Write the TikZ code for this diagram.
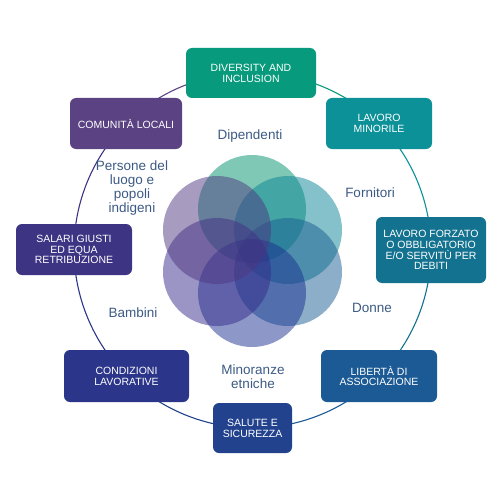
\documentclass[tikz,border=0pt]{standalone}
\usepackage{fontspec}
\setmainfont{Liberation Sans}
\usetikzlibrary{backgrounds}
\definecolor{cdiv}{HTML}{079A7C}
\definecolor{cmin}{HTML}{0C9198}
\definecolor{cfor}{HTML}{13728F}
\definecolor{clib}{HTML}{1C5A95}
\definecolor{csal}{HTML}{22428E}
\definecolor{ccon}{HTML}{2B3589}
\definecolor{cslr}{HTML}{3D3584}
\definecolor{ccom}{HTML}{5A4283}
\definecolor{lblc}{HTML}{3C5A84}
\definecolor{p1}{HTML}{00916B}
\definecolor{p2}{HTML}{098395}
\definecolor{p3}{HTML}{195D91}
\definecolor{p4}{HTML}{1D3191}
\definecolor{p5}{HTML}{352B8B}
\definecolor{p6}{HTML}{4F3781}
\begin{document}
\begin{tikzpicture}[x=1pt,y=-1pt,
  box/.style={rounded corners=6pt, inner sep=0pt, align=center, text=white,
    font=\fontsize{10.5}{10.8}\selectfont},
  lbl/.style={text=lblc, align=center, font=\fontsize{13.5}{14.2}\selectfont},
  petal/.style={fill opacity=0.5},
  ring/.style={line width=1.1pt, bend left=22.5, looseness=0.885}]
\useasboundingbox (0,0) rectangle (500,500);

% flower
\fill[petal, p1] (252,209) circle[radius=54];
\fill[petal, p2] (288,230) circle[radius=54];
\fill[petal, p3] (288,272) circle[radius=54];
\fill[petal, p4] (252,293) circle[radius=54];
\fill[petal, p5] (217,272) circle[radius=54];
\fill[petal, p6] (217,230) circle[radius=54];

% boxes
\node[box, fill=cdiv, minimum width=130pt, minimum height=50pt] (div) at (251,73) {DIVERSITY AND\\INCLUSION};
\node[box, fill=cmin, minimum width=106pt, minimum height=51pt] (min) at (379,123.5) {LAVORO\\MINORILE};
\node[box, fill=cfor, minimum width=110pt, minimum height=66pt] (for) at (431,250) {LAVORO FORZATO\\O OBBLIGATORIO\\E/O SERVITÙ PER\\DEBITI};
\node[box, fill=clib, minimum width=116pt, minimum height=52pt] (lib) at (379,376) {LIBERTÀ DI\\ASSOCIAZIONE};
\node[box, fill=csal, minimum width=79pt, minimum height=50pt] (sal) at (252.5,428) {SALUTE E\\SICUREZZA};
\node[box, fill=ccon, minimum width=125pt, minimum height=52pt] (con) at (126.5,376) {CONDIZIONI\\LAVORATIVE};
\node[box, fill=cslr, minimum width=116pt, minimum height=51pt] (slr) at (74,249.5) {SALARI GIUSTI\\ED EQUA\\RETRIBUZIONE};
\node[box, fill=ccom, minimum width=112pt, minimum height=51pt] (com) at (126,123.5) {COMUNITÀ LOCALI};

% ring
\begin{scope}[on background layer]
\draw[ring, ccom] (com.center) to (div.center);
\draw[ring, cdiv] (div.center) to (min.center);
\draw[ring, cmin] (min.center) to (for.center);
\draw[ring, cfor] (for.center) to (lib.center);
\draw[ring, clib] (lib.center) to (sal.center);
\draw[ring, csal] (sal.center) to (con.center);
\draw[ring, ccon] (con.center) to (slr.center);
\draw[ring, cslr] (slr.center) to (com.center);
\end{scope}

% labels
\node[lbl] (l1) at (250,136) {Dipendenti};
\node[lbl] (l2) at (370,193) {Fornitori};
\node[lbl] (l3) at (372,308) {Donne};
\node[lbl] (l4) at (253,377) {Minoranze\\etniche};
\node[lbl] (l5) at (133,313) {Bambini};
\node[lbl] (l6) at (132,188) {Persone del\\luogo e\\popoli\\indigeni};
\end{tikzpicture}
\end{document}
